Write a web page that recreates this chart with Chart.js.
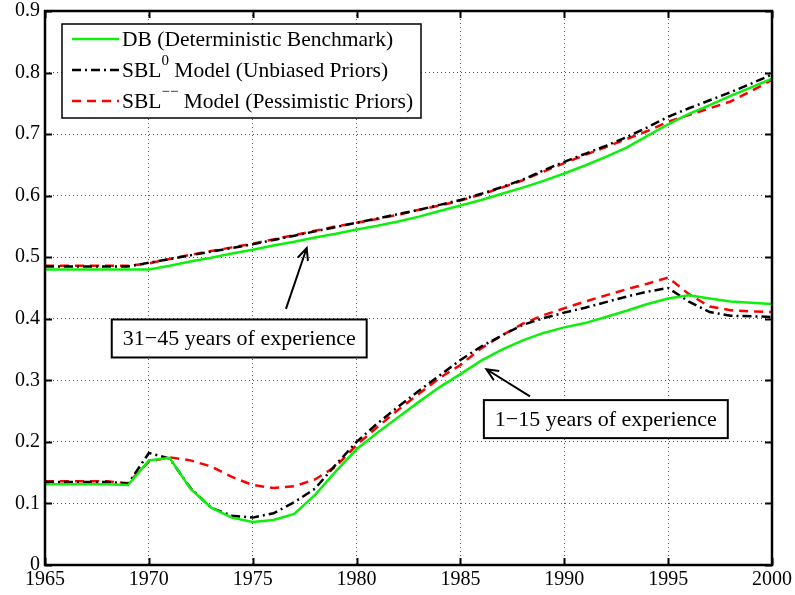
<!DOCTYPE html>
<html>
<head>
<meta charset="utf-8">
<script src="https://cdn.jsdelivr.net/npm/chart.js@4/dist/chart.umd.min.js"></script>
<style>
  html, body { margin: 0; padding: 0; background: #fff; }
  #wrap { width: 795px; height: 595px; position: relative; }
</style>
</head>
<body>
<div id="wrap"><canvas id="chart"></canvas></div>
<script>
// Données (années 1965-2000)
const years = [1965, 1966, 1967, 1968, 1969, 1970, 1971, 1972, 1973, 1974, 1975, 1976,
    1977, 1978, 1979, 1980, 1981, 1982, 1983, 1984, 1985, 1986, 1987, 1988,
    1989, 1990, 1991, 1992, 1993, 1994, 1995, 1996, 1997, 1998, 1999, 2000];

// 31-45 ans d'expérience
const dbSenior = [0.480, 0.480, 0.480, 0.480, 0.480, 0.480, 0.486, 0.493, 0.499, 0.506, 0.512, 0.519,
    0.525, 0.532, 0.538, 0.545, 0.551, 0.558, 0.566, 0.575, 0.584, 0.593, 0.603, 0.613,
    0.624, 0.636, 0.649, 0.663, 0.678, 0.697, 0.716, 0.733, 0.747, 0.762, 0.776, 0.790];
const sbl0Senior = [0.485, 0.485, 0.485, 0.485, 0.485, 0.491, 0.497, 0.503, 0.509, 0.515, 0.521, 0.528,
    0.535, 0.542, 0.549, 0.556, 0.563, 0.570, 0.577, 0.585, 0.593, 0.603, 0.614, 0.626,
    0.641, 0.655, 0.668, 0.681, 0.695, 0.711, 0.728, 0.742, 0.755, 0.768, 0.782, 0.797];
const sblPessSenior = [0.486, 0.486, 0.486, 0.486, 0.486, 0.490, 0.497, 0.504, 0.510, 0.516, 0.522, 0.529,
    0.536, 0.543, 0.550, 0.556, 0.562, 0.569, 0.577, 0.584, 0.592, 0.602, 0.613, 0.625,
    0.639, 0.653, 0.666, 0.679, 0.692, 0.705, 0.720, 0.731, 0.742, 0.753, 0.770, 0.788];

// 1-15 ans d'expérience
const dbJunior = [0.131, 0.131, 0.131, 0.131, 0.130, 0.170, 0.174, 0.124, 0.093, 0.077, 0.070, 0.073,
    0.083, 0.114, 0.152, 0.188, 0.215, 0.240, 0.265, 0.289, 0.310, 0.332, 0.350, 0.365,
    0.377, 0.386, 0.393, 0.403, 0.413, 0.424, 0.433, 0.438, 0.433, 0.428, 0.426, 0.424];
const sbl0Junior = [0.135, 0.135, 0.135, 0.135, 0.132, 0.182, 0.173, 0.125, 0.093, 0.080, 0.077, 0.084,
    0.102, 0.124, 0.163, 0.200, 0.230, 0.257, 0.283, 0.308, 0.333, 0.355, 0.373, 0.390,
    0.401, 0.410, 0.418, 0.427, 0.436, 0.444, 0.450, 0.428, 0.411, 0.405, 0.404, 0.403];
const sblPessJunior = [0.136, 0.136, 0.136, 0.136, 0.133, 0.168, 0.175, 0.170, 0.160, 0.143, 0.130, 0.125,
    0.128, 0.139, 0.160, 0.195, 0.224, 0.252, 0.278, 0.304, 0.325, 0.352, 0.373, 0.392,
    0.406, 0.417, 0.428, 0.438, 0.448, 0.457, 0.467, 0.440, 0.420, 0.414, 0.412, 0.411];

const xTicks = [1965, 1970, 1975, 1980, 1985, 1990, 1995, 2000];
const yTicks = [0, 0.1, 0.2, 0.3, 0.4, 0.5, 0.6, 0.7, 0.8, 0.9];

const serif = '"Liberation Serif", "DejaVu Serif", serif';

// Annotations (coordonnées en unités des données)
const notes = [
    { text: '31\u221245 years of experience', cx: 1974.35, cy: 0.368, from: [1976.6, 0.416], to: [1977.6, 0.515] },
    { text: '1\u221215 years of experience', cx: 1992.0, cy: 0.237, from: [1988.35, 0.274], to: [1986.25, 0.318] }
];

function pts(vals) {
    return years.map((yr, i) => ({ x: yr, y: vals[i] }));
}

const green = '#0cf00c';
const styleDB = { borderColor: green, borderWidth: 2.5, borderDash: [] };
const styleSBL0 = { borderColor: '#000000', borderWidth: 2.5, borderDash: [9, 4, 2, 4] };
const stylePess = { borderColor: '#ff0000', borderWidth: 2.5, borderDash: [9, 6] };

// cadre, graduations intérieures, annotations et légende
const decorPlugin = {
    id: 'decor',
    afterDatasetsDraw(chart) {
        const ctx = chart.ctx;
        const a = chart.chartArea;
        const xs = chart.scales.x, ys = chart.scales.y;
        ctx.save();
        ctx.strokeStyle = '#000';
        ctx.lineWidth = 2;
        ctx.beginPath();
        xTicks.forEach(v => {
            const px = Math.round(xs.getPixelForValue(v)) + 0.5;
            ctx.moveTo(px, a.bottom); ctx.lineTo(px, a.bottom - 7);
            ctx.moveTo(px, a.top); ctx.lineTo(px, a.top + 7);
        });
        yTicks.forEach(v => {
            const py = Math.round(ys.getPixelForValue(v)) + 0.5;
            ctx.moveTo(a.left, py); ctx.lineTo(a.left + 7, py);
            ctx.moveTo(a.right, py); ctx.lineTo(a.right - 7, py);
        });
        ctx.stroke();
        ctx.lineWidth = 2.5;
        ctx.strokeRect(a.left, a.top, a.right - a.left, a.bottom - a.top);

        // annotations
        ctx.font = '22px ' + serif;
        ctx.textBaseline = 'middle';
        ctx.textAlign = 'center';
        notes.forEach(n => {
            const fx = xs.getPixelForValue(n.from[0]), fy = ys.getPixelForValue(n.from[1]);
            const tx = xs.getPixelForValue(n.to[0]), ty = ys.getPixelForValue(n.to[1]);
            ctx.lineWidth = 2;
            ctx.beginPath();
            ctx.moveTo(fx, fy); ctx.lineTo(tx, ty);
            const ang = Math.atan2(ty - fy, tx - fx);
            const hl = 13, hw = 0.42;
            ctx.moveTo(tx - hl * Math.cos(ang - hw), ty - hl * Math.sin(ang - hw));
            ctx.lineTo(tx, ty);
            ctx.lineTo(tx - hl * Math.cos(ang + hw), ty - hl * Math.sin(ang + hw));
            ctx.stroke();

            const cx = xs.getPixelForValue(n.cx), cy = ys.getPixelForValue(n.cy);
            const w = ctx.measureText(n.text).width + 22, h = 38;
            ctx.fillStyle = '#fff';
            ctx.fillRect(cx - w / 2, cy - h / 2, w, h);
            ctx.strokeRect(cx - w / 2, cy - h / 2, w, h);
            ctx.fillStyle = '#000';
            ctx.fillText(n.text, cx, cy + 1);
        });

        // légende
        const lx = a.left + 17, ly = a.top + 13, lw = 359, lh = 94;
        ctx.fillStyle = '#fff';
        ctx.fillRect(lx, ly, lw, lh);
        ctx.lineWidth = 1.5;
        ctx.strokeRect(lx, ly, lw, lh);
        const rows = [
            { st: styleDB, parts: [['DB (Deterministic Benchmark)', false]] },
            { st: styleSBL0, parts: [['SBL', false], ['0', true], [' Model (Unbiased Priors)', false]] },
            { st: stylePess, parts: [['SBL', false], ['\u2212\u2212', true], [' Model (Pessimistic Priors)', false]] }
        ];
        ctx.textAlign = 'left';
        rows.forEach((r, i) => {
            const y = ly + 15 + i * 31;
            ctx.strokeStyle = r.st.borderColor;
            ctx.lineWidth = r.st.borderWidth;
            ctx.setLineDash(r.st.borderDash);
            ctx.beginPath();
            ctx.moveTo(lx + 10, y); ctx.lineTo(lx + 57, y);
            ctx.stroke();
            ctx.setLineDash([]);
            let x = lx + 60;
            ctx.fillStyle = '#000';
            r.parts.forEach(([t, sup]) => {
                ctx.font = (sup ? '15px ' : '21.5px ') + serif;
                ctx.fillText(t, x, sup ? y - 9 : y + 1);
                x += ctx.measureText(t).width;
            });
        });
        ctx.restore();
    }
};

new Chart(document.getElementById('chart'), {
    type: 'line',
    data: {
        datasets: [
            { label: 'DB', data: pts(dbSenior), ...styleDB },
            { label: 'DB', data: pts(dbJunior), ...styleDB },
            { label: 'SBL0', data: pts(sbl0Senior), ...styleSBL0 },
            { label: 'SBL0', data: pts(sbl0Junior), ...styleSBL0 },
            { label: 'SBL--', data: pts(sblPessSenior), ...stylePess },
            { label: 'SBL--', data: pts(sblPessJunior), ...stylePess }
        ]
    },
    options: {
        responsive: true,
        maintainAspectRatio: false,
        animation: false,
        elements: {
            point: { radius: 0, hoverRadius: 0 },
            line: { tension: 0, fill: false, borderCapStyle: 'butt' }
        },
        layout: { padding: { top: 11, right: 23, left: 0, bottom: 0 } },
        plugins: { legend: { display: false }, tooltip: { enabled: false } },
        scales: {
            x: {
                type: 'linear',
                min: 1965,
                max: 2000,
                afterBuildTicks: s => { s.ticks = xTicks.map(v => ({ value: v })); },
                afterFit: s => { s.height = 30; s.paddingLeft = 0; s.paddingRight = 0; },
                grid: { color: '#555', lineWidth: 1, drawTicks: false },
                border: { display: false, dash: [1, 3] },
                ticks: {
                    color: '#000',
                    font: { family: serif, size: 20 },
                    padding: 3,
                    maxRotation: 0,
                    callback: v => String(v)
                }
            },
            y: {
                type: 'linear',
                min: 0,
                max: 0.9,
                afterBuildTicks: s => { s.ticks = yTicks.map(v => ({ value: v })); },
                afterFit: s => { s.width = 45; s.paddingTop = 0; s.paddingBottom = 0; },
                grid: { color: '#555', lineWidth: 1, drawTicks: false },
                border: { display: false, dash: [1, 3] },
                ticks: {
                    color: '#000',
                    font: { family: serif, size: 20 },
                    padding: 5,
                    callback: v => String(Number(v.toFixed(1)))
                }
            }
        }
    },
    plugins: [decorPlugin]
});
</script>
</body>
</html>
